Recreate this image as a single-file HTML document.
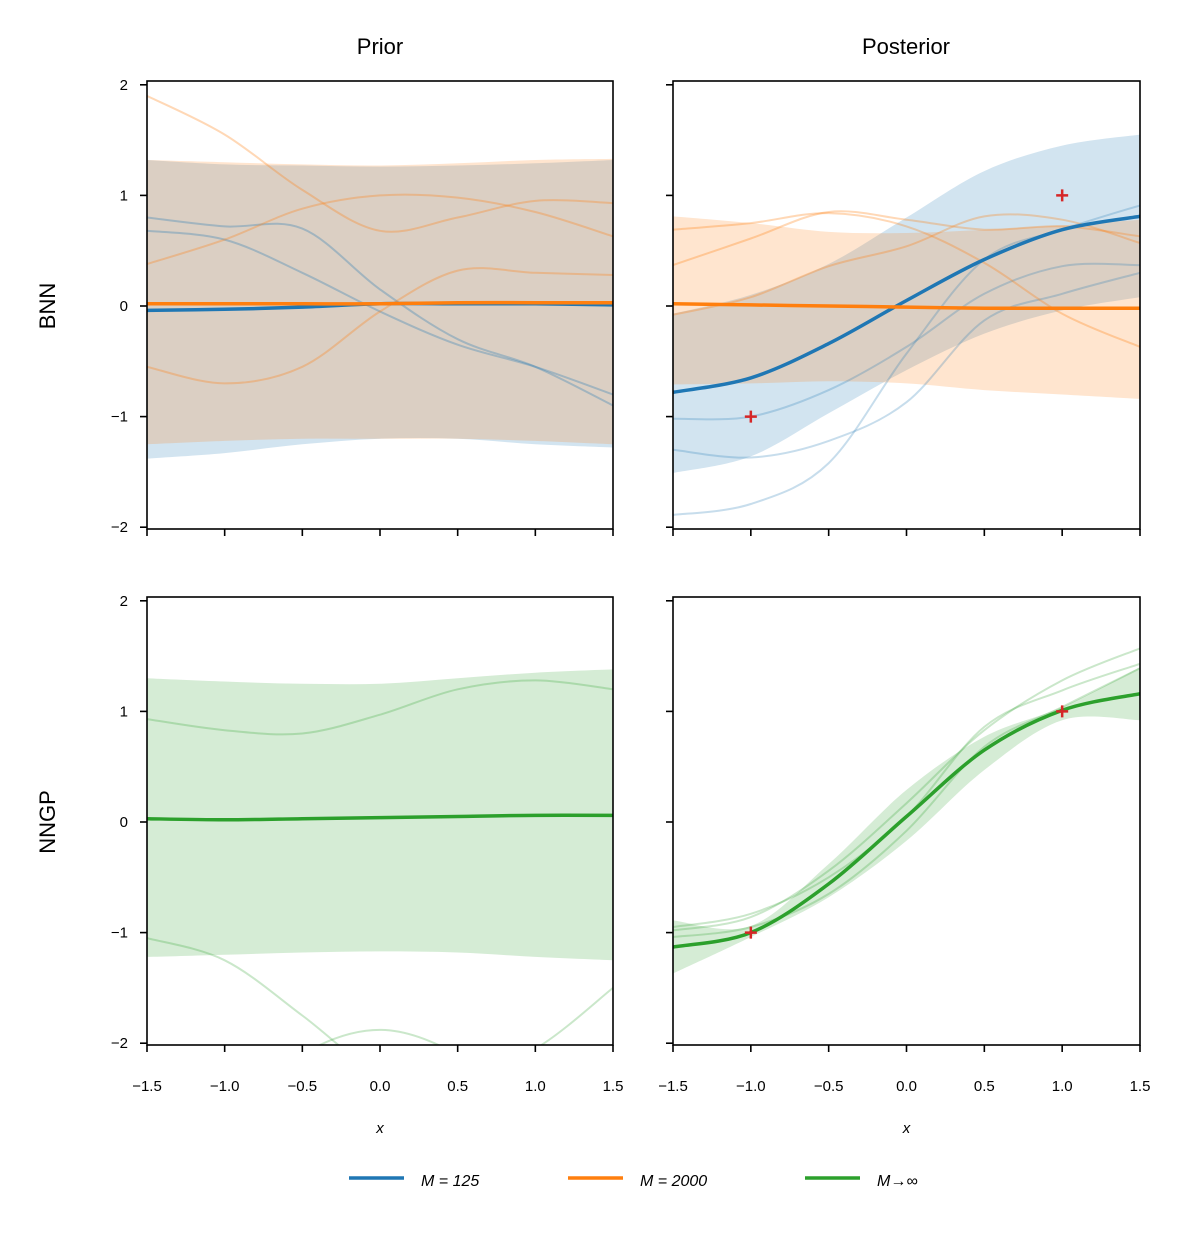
<!DOCTYPE html>
<html><head><meta charset="utf-8"><style>
body{margin:0;background:#fff}
svg text{font-family:"Liberation Sans","DejaVu Sans",sans-serif}
</style></head><body>
<svg id="fig" xmlns="http://www.w3.org/2000/svg" width="1189" height="1232" viewBox="0 0 1189 1232">
<rect width="1189" height="1232" fill="#fff"/>
</svg>
<script>
const xs=[-1.5,-1,-0.5,0,0.5,1,1.5];
const xTicks=[-1.5,-1.0,-0.5,0.0,0.5,1.0,1.5];
const yTicks=[2,1,0,-1,-2];
// Prior BNN
const pbBlueUp=[1.32,1.28,1.27,1.26,1.27,1.29,1.32];
const pbBlueLo=[-1.38,-1.33,-1.25,-1.2,-1.2,-1.25,-1.28];
const pbOrUp=[1.32,1.3,1.28,1.27,1.29,1.32,1.33];
const pbOrLo=[-1.25,-1.22,-1.2,-1.2,-1.2,-1.22,-1.25];
const pbBlueMean=[-0.04,-0.03,-0.01,0.02,0.02,0.02,0.01];
const pbOrMean=[0.02,0.02,0.02,0.02,0.03,0.03,0.03];
const pbBlueS1=[0.68,0.6,0.3,-0.05,-0.35,-0.55,-0.8];
const pbBlueS2=[0.8,0.72,0.7,0.15,-0.3,-0.55,-0.9];
const pbOrS1=[1.9,1.55,1.05,0.68,0.8,0.95,0.93];
const pbOrS2=[0.38,0.6,0.88,1.0,0.98,0.85,0.63];
const pbOrS3=[-0.55,-0.7,-0.55,-0.05,0.32,0.3,0.28];
// Posterior BNN
const qbBlueUp=[-0.07,0.1,0.38,0.8,1.22,1.45,1.55];
const qbBlueLo=[-1.51,-1.36,-0.97,-0.58,-0.25,-0.04,0.08];
const qbOrUp=[0.81,0.75,0.67,0.66,0.69,0.73,0.78];
const qbOrLo=[-0.71,-0.7,-0.68,-0.7,-0.76,-0.8,-0.84];
const qbBlueMean=[-0.78,-0.65,-0.34,0.05,0.42,0.69,0.81];
const qbOrMean=[0.02,0.01,0.0,-0.01,-0.02,-0.02,-0.02];
const qbBlueS1=[-1.02,-1.0,-0.76,-0.37,0.11,0.36,0.37];
const qbBlueS2=[-1.3,-1.37,-1.22,-0.87,-0.13,0.11,0.3];
const qbBlueS3=[-1.89,-1.79,-1.42,-0.43,0.42,0.69,0.91];
const qbOrS1=[0.69,0.75,0.84,0.72,0.39,-0.07,-0.37];
const qbOrS2=[0.37,0.61,0.85,0.78,0.69,0.72,0.63];
const qbOrS3=[-0.08,0.08,0.36,0.54,0.81,0.78,0.57];
// Prior NNGP
const pgUp=[1.3,1.27,1.25,1.25,1.3,1.35,1.38];
const pgLo=[-1.22,-1.2,-1.18,-1.17,-1.18,-1.22,-1.25];
const pgMean=[0.03,0.02,0.03,0.04,0.05,0.06,0.06];
const pgS1=[0.93,0.83,0.8,0.97,1.2,1.28,1.2];
const pgS2=[-1.05,-1.25,-1.75,-2.3,-2.6,-2.8,-3];
const pgS3=[-3,-2.7,-2.1,-1.88,-2.1,-2.6,-2.8];
const pgS4=[-3,-2.8,-2.6,-2.5,-2.3,-2.05,-1.5];
// Posterior NNGP
const qgUp=[-0.89,-0.94,-0.38,0.29,0.77,1.04,1.4];
const qgLo=[-1.37,-1.04,-0.68,-0.17,0.47,0.92,0.92];
const qgMean=[-1.13,-1.0,-0.56,0.05,0.65,1.01,1.16];
const qgS1=[-0.98,-0.86,-0.44,0.17,0.83,1.28,1.57];
const qgS2=[-0.95,-0.83,-0.5,0.05,0.86,1.19,1.43];
const qgS3=[-1.04,-0.95,-0.65,-0.08,0.68,1.04,1.39];
const obsX=[-1,1], obsY=[-1,1];

const C={b:'#1f77b4',o:'#ff7f0e',g:'#2ca02c',r:'#d62728'};
const NS='http://www.w3.org/2000/svg';
const svg=document.getElementById('fig');
function mk(tag,attrs,parent){const e=document.createElementNS(NS,tag);for(const k in attrs)e.setAttribute(k,attrs[k]);(parent||svg).appendChild(e);return e;}
function fmt(v){return (v<0?'\u2212':'')+Math.abs(v).toFixed(1);}
function fmtY(v){return (v<0?'\u2212':'')+Math.abs(v);}

const panels=[
 {x0:147,x1:613,yTop:81,yBot:529,y0:306,name:'prior-bnn'},
 {x0:673,x1:1140,yTop:81,yBot:529,y0:306,name:'posterior-bnn'},
 {x0:147,x1:613,yTop:597,yBot:1045,y0:822,name:'prior-nngp'},
 {x0:673,x1:1140,yTop:597,yBot:1045,y0:822,name:'posterior-nngp'}];
panels.forEach((p,i)=>{p.sx=x=>p.x0+(x+1.5)/3*(p.x1-p.x0);p.sy=y=>p.y0-y*110.6;p.idx=i;});

function pts(p,ys){return xs.map((x,i)=>[p.sx(x),p.sy(ys[i])]);}
function spline(P){let d='M'+P[0][0].toFixed(1)+','+P[0][1].toFixed(1);
 for(let i=0;i<P.length-1;i++){const p0=P[Math.max(0,i-1)],p1=P[i],p2=P[i+1],p3=P[Math.min(P.length-1,i+2)];
 const c1=[p1[0]+(p2[0]-p0[0])/6,p1[1]+(p2[1]-p0[1])/6],c2=[p2[0]-(p3[0]-p1[0])/6,p2[1]-(p3[1]-p1[1])/6];
 d+=' C'+c1.map(v=>v.toFixed(1))+' '+c2.map(v=>v.toFixed(1))+' '+p2[0].toFixed(1)+','+p2[1].toFixed(1);}return d;}
function band(p,g,up,lo,col,name){
 const U=pts(p,up),L=pts(p,lo).reverse();
 let d=spline(U)+' L'+L[0][0]+','+L[0][1]+spline(L).replace(/^M[^ C]+/,'')+' Z';
 const e=mk('path',{d:d,fill:col,'fill-opacity':0.2,stroke:'none'},g);
 
 }
function line(p,g,ys,col,w,op,name){
 const e=mk('path',{d:spline(pts(p,ys)),fill:'none',stroke:col,'stroke-width':w,'stroke-opacity':op},g);
 
 }
function cross(p,g){obsX.forEach((x,i)=>{const cx=p.sx(x),cy=p.sy(obsY[i]);
 const e=mk('path',{d:`M${cx-6},${cy} H${cx+6} M${cx},${cy-6} V${cy+6}`,stroke:C.r,'stroke-width':2.5},g);
 
 });}

panels.forEach(p=>{
 const defs=mk('defs',{});
 const cp=mk('clipPath',{id:'cp'+p.idx},defs);
 mk('rect',{x:p.x0,y:p.yTop,width:p.x1-p.x0,height:p.yBot-p.yTop},cp);
 const g=mk('g',{'clip-path':`url(#cp${p.idx})`});
 
 
 if(p.idx===0){band(p,g,pbBlueUp,pbBlueLo,C.b,'band-m125');band(p,g,pbOrUp,pbOrLo,C.o,'band-m2000');
  [pbBlueS1,pbBlueS2].forEach(s=>line(p,g,s,C.b,2,0.3,'sample-m125'));
  [pbOrS1,pbOrS2,pbOrS3].forEach(s=>line(p,g,s,C.o,2,0.3,'sample-m2000'));
  line(p,g,pbBlueMean,C.b,3.5,1,'mean-m125');line(p,g,pbOrMean,C.o,3.5,1,'mean-m2000');}
 if(p.idx===1){band(p,g,qbBlueUp,qbBlueLo,C.b,'band-m125');band(p,g,qbOrUp,qbOrLo,C.o,'band-m2000');
  [qbBlueS1,qbBlueS2,qbBlueS3].forEach(s=>line(p,g,s,C.b,2,0.25,'sample-m125'));
  [qbOrS1,qbOrS2,qbOrS3].forEach(s=>line(p,g,s,C.o,2,0.3,'sample-m2000'));
  line(p,g,qbBlueMean,C.b,3.5,1,'mean-m125');line(p,g,qbOrMean,C.o,3.5,1,'mean-m2000');cross(p,g);}
 if(p.idx===2){band(p,g,pgUp,pgLo,C.g,'band-nngp');
  [pgS1,pgS2,pgS3,pgS4].forEach(s=>line(p,g,s,C.g,2,0.25,'sample-nngp'));
  line(p,g,pgMean,C.g,3.5,1,'mean-nngp');}
 if(p.idx===3){band(p,g,qgUp,qgLo,C.g,'band-nngp');
  [qgS1,qgS2,qgS3].forEach(s=>line(p,g,s,C.g,2,0.25,'sample-nngp'));
  line(p,g,qgMean,C.g,3.5,1,'mean-nngp');cross(p,g);}
 const fr=mk('rect',{x:p.x0,y:p.yTop,width:p.x1-p.x0,height:p.yBot-p.yTop,fill:'none',stroke:'#000','stroke-width':1.6});
 
 
 xTicks.forEach(t=>{const x=p.sx(t);mk('line',{x1:x,x2:x,y1:p.yBot,y2:p.yBot+7,stroke:'#000','stroke-width':1.6});
  if(p.idx>=2){const tx=mk('text',{x:x,y:p.yBot+46,'font-size':15,'text-anchor':'middle'});tx.textContent=fmt(t);
   
   }});
 yTicks.forEach(t=>{const y=p.sy(t);mk('line',{x1:p.x0-7,x2:p.x0,y1:y,y2:y,stroke:'#000','stroke-width':1.6});
  if(p.idx%2===0){const tx=mk('text',{x:p.x0-19,y:y+5,'font-size':15,'text-anchor':'end'});tx.textContent=fmtY(t);
   
   }});
 if(p.idx>=2){const xl=mk('text',{x:(p.x0+p.x1)/2,y:1133,'font-size':15,'font-style':'italic','text-anchor':'middle'});xl.textContent='x';
  
  }
});
[['Prior',380],['Posterior',906]].forEach(([t,x])=>{const e=mk('text',{x:x,y:54,'font-size':22,'text-anchor':'middle'});e.textContent=t;
 
 });
[['BNN',306],['NNGP',822]].forEach(([t,y])=>{const e=mk('text',{x:0,y:0,'font-size':22,'text-anchor':'middle',transform:`translate(55,${y}) rotate(-90)`});e.textContent=t;
 
 });
[[C.b,'M = 125',349],[C.o,'M = 2000',568],[C.g,'M\u2192\u221e',805]].forEach(([c,t,x])=>{
 const g=mk('g',{});
 
 
 mk('line',{x1:x,x2:x+55,y1:1178,y2:1178,stroke:c,'stroke-width':3.5},g);
 const e=mk('text',{x:x+72,y:1186,'font-size':16,'font-style':'italic'},g);e.textContent=t;});
</script>
</body></html>
